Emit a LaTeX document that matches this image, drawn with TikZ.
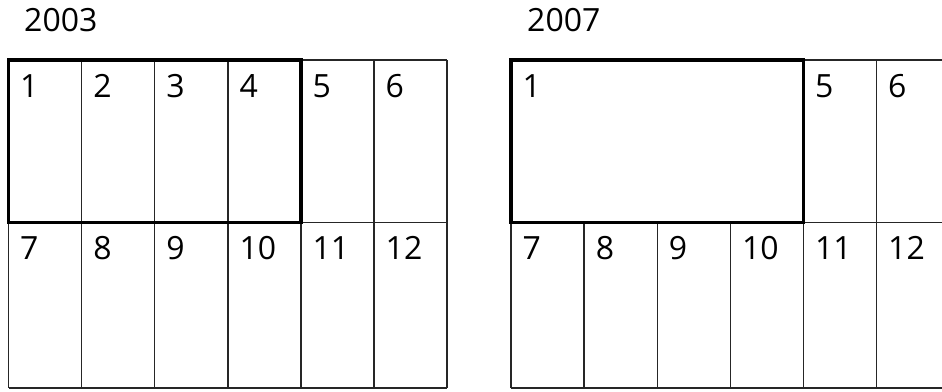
\documentclass[tikz,border=0pt]{standalone}
\usepackage{fontspec}
\setmainfont{Open Sans}
\begin{document}
\begin{tikzpicture}[x=1pt,y=-1pt,
  gridline/.style={line width=1.4pt,draw=black!85},
  boldbox/.style={line width=3.4pt,draw=black},
  lbl/.style={anchor=base west,inner sep=0pt,font=\fontsize{32}{32}\selectfont}]
\useasboundingbox (0,0) rectangle (942,391);
\def\cw{73.1}
% ---------- 2003 ----------
\node[lbl] (y2003) at (24,31.5) {2003};
\foreach \i in {0,...,6} {
  \draw[gridline] ({8.5+\i*\cw},60) coordinate (la\i) -- ({8.5+\i*\cw},388) coordinate (lb\i);
}
\draw[gridline] (la0) -- (la6);
\draw[gridline] (8.5,222.5) coordinate (lm0) -- (447.1,222.5) coordinate (lm6);
\draw[gridline] (lb0) -- (lb6);
\draw[boldbox] (8.5,60) rectangle (300.9,222.5);
\foreach \n [count=\k from 0] in {1,...,6} {
  \node[lbl] (l\n) at ({8.5+\k*\cw+11.5},97.5) {\n};
}
\foreach \n [count=\k from 0] in {7,...,12} {
  \node[lbl] (l\n) at ({8.5+\k*\cw+11.5},259.5) {\n};
}
% ---------- 2007 ----------
\node[lbl] (y2007) at (527,31.5) {2007};
\begin{scope}
\clip (500,0) rectangle (942,391);
\foreach \i in {0,...,6} {
  \coordinate (ra\i) at ({511+\i*\cw},60);
  \coordinate (rm\i) at ({511+\i*\cw},222.5);
  \coordinate (rb\i) at ({511+\i*\cw},388);
  \draw[gridline] (rm\i) -- (rb\i);
}
\draw[gridline] (ra4) -- (rm4);
\draw[gridline] (ra5) -- (rm5);
\draw[gridline] (ra6) -- (rm6);
\draw[gridline] (ra0) -- (ra6);
\draw[gridline] (rm0) -- (rm6);
\draw[gridline] (rb0) -- (rb6);
\draw[boldbox] (ra0) rectangle (rm4);
\end{scope}
\node[lbl] (r1) at ({511+11.5},97.5) {1};
\node[lbl] (r5) at ({511+4*\cw+11.5},97.5) {5};
\node[lbl] (r6) at ({511+5*\cw+11.5},97.5) {6};
\foreach \n [count=\k from 0] in {7,...,12} {
  \node[lbl] (r\n) at ({511+\k*\cw+11.5},259.5) {\n};
}
\end{tikzpicture}
\end{document}
